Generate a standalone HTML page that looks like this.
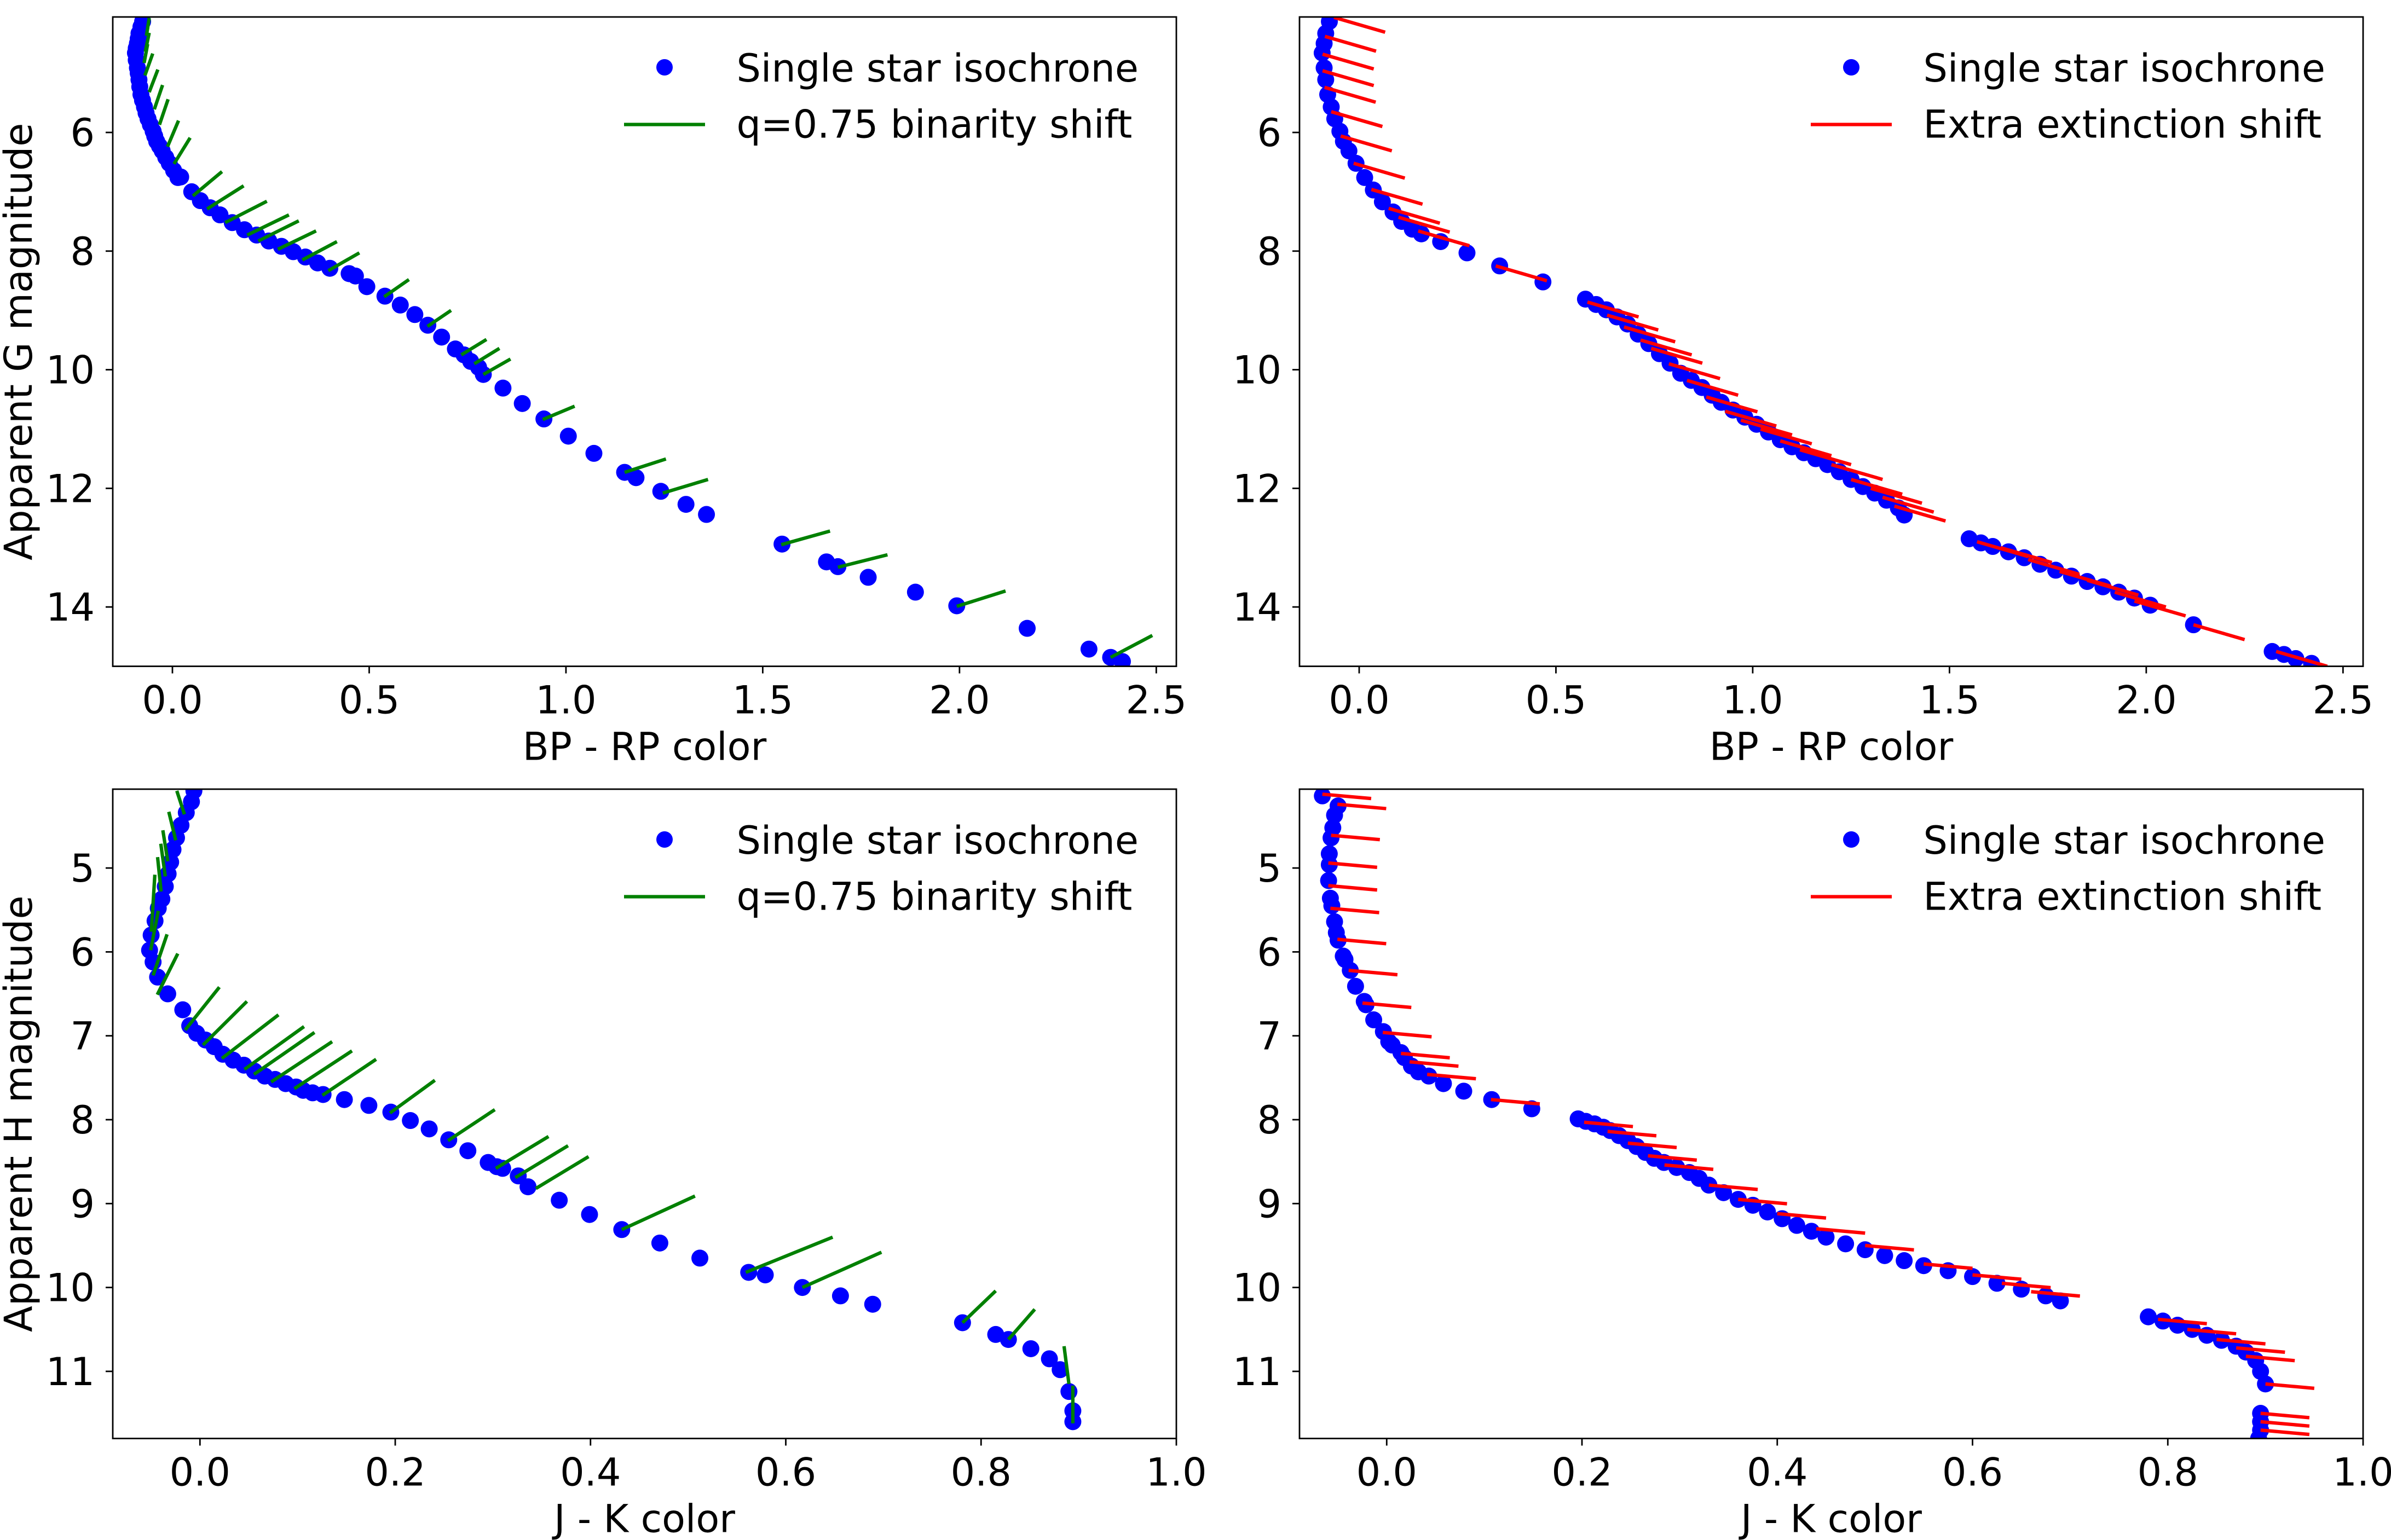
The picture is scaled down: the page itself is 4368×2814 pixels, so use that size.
<!DOCTYPE html>
<html><head><meta charset="utf-8"><style>
html,body{margin:0;padding:0;background:#fff;}
svg{display:block;}
text{font-family:"DejaVu Sans","Liberation Sans",sans-serif;fill:#000;}
</style></head><body>
<svg id="fig" xmlns="http://www.w3.org/2000/svg" width="4368" height="2814" viewBox="0 0 4368 2814">
<rect x="0" y="0" width="4368" height="2814" fill="#fff"/>
</svg>
<script>
// ---------- Top-left: Gaia CMD, binarity shift ----------
const tlColor=[-0.0757,-0.080,-0.085,-0.087,-0.089,-0.092,-0.094,-0.092,-0.089,-0.087,-0.085,-0.083,-0.080,-0.076,-0.071,-0.067,-0.062,-0.056,-0.049,-0.045,-0.040,-0.033,-0.026,-0.017,-0.008,0.003,0.014,0.021,0.049,0.071,0.096,0.121,0.152,0.183,0.214,0.245,0.277,0.307,0.338,0.369,0.400,0.449,0.465,0.494,0.540,0.579,0.616,0.649,0.684,0.719,0.741,0.758,0.778,0.790,0.840,0.889,0.944,1.006,1.071,1.149,1.178,1.241,1.305,1.357,1.549,1.662,1.691,1.768,1.888,1.993,2.172,2.329,2.384,2.414];
const tlMag=[4.13,4.22,4.33,4.42,4.50,4.58,4.66,4.78,4.91,5.00,5.11,5.23,5.36,5.46,5.57,5.67,5.77,5.87,5.98,6.06,6.15,6.23,6.31,6.42,6.52,6.64,6.76,6.75,7.00,7.15,7.27,7.39,7.52,7.64,7.73,7.83,7.92,8.01,8.10,8.20,8.29,8.38,8.42,8.60,8.76,8.91,9.07,9.25,9.45,9.65,9.75,9.86,9.96,10.08,10.31,10.57,10.83,11.12,11.41,11.73,11.82,12.05,12.27,12.44,12.94,13.24,13.32,13.50,13.75,13.98,14.36,14.71,14.85,14.92];
const tlBinX=[-0.066,-0.069,-0.072,-0.070,-0.059,-0.046,-0.033,-0.0125,0.004,0.052,0.088,0.134,0.190,0.218,0.268,0.330,0.396,0.538,0.648,0.734,0.767,0.790,0.941,1.149,1.246,1.547,1.691,1.993,2.384];
const tlBinY=[4.37,4.64,4.83,5.04,5.32,5.61,5.87,6.24,6.53,7.07,7.29,7.52,7.73,7.83,7.97,8.15,8.33,8.77,9.27,9.75,9.90,10.08,10.84,11.73,12.08,12.95,13.33,13.99,14.85];
const tlBinDX=[0.007,0.010,0.009,0.020,0.022,0.021,0.022,0.028,0.041,0.074,0.093,0.106,0.106,0.103,0.097,0.088,0.079,0.063,0.060,0.064,0.064,0.069,0.081,0.105,0.115,0.124,0.126,0.124,0.106];
const tlBinDY=[-0.30,-0.32,-0.32,-0.37,-0.38,-0.41,-0.43,-0.44,-0.44,-0.41,-0.39,-0.36,-0.34,-0.34,-0.31,-0.31,-0.30,-0.29,-0.27,-0.26,-0.26,-0.26,-0.225,-0.225,-0.23,-0.23,-0.21,-0.26,-0.37];

// ---------- Top-right: Gaia CMD, extinction shift ----------
const trColor=[-0.0757,-0.085,-0.089,-0.094,-0.089,-0.085,-0.080,-0.071,-0.062,-0.049,-0.040,-0.026,-0.008,0.014,0.036,0.059,0.086,0.108,0.135,0.158,0.207,0.274,0.357,0.467,0.575,0.602,0.628,0.655,0.682,0.709,0.736,0.763,0.790,0.817,0.844,0.871,0.897,0.92,0.95,0.98,1.01,1.04,1.07,1.10,1.13,1.16,1.19,1.22,1.25,1.28,1.31,1.34,1.37,1.385,1.55,1.58,1.61,1.65,1.69,1.73,1.77,1.81,1.85,1.89,1.93,1.97,2.01,2.12,2.32,2.35,2.38,2.42];
const trMag=[4.13,4.33,4.50,4.66,4.91,5.11,5.36,5.57,5.77,5.98,6.15,6.31,6.52,6.76,6.97,7.17,7.34,7.50,7.63,7.71,7.84,8.03,8.25,8.52,8.81,8.90,8.99,9.11,9.23,9.40,9.56,9.73,9.89,10.06,10.18,10.30,10.43,10.55,10.68,10.80,10.92,11.05,11.18,11.30,11.40,11.50,11.60,11.72,11.85,11.97,12.08,12.20,12.33,12.45,12.85,12.92,12.98,13.07,13.17,13.28,13.38,13.48,13.57,13.66,13.75,13.85,13.97,14.30,14.75,14.80,14.87,14.95];
const trExtX=[-0.064,-0.087,-0.093,-0.093,-0.088,-0.071,-0.047,-0.014,0.031,0.075,0.100,0.150,0.347,0.580,0.630,0.673,0.715,0.742,0.787,0.833,0.882,0.93,0.97,1.02,1.07,1.12,1.20,1.25,1.30,1.33,1.36,1.57,1.63,1.70,1.78,1.85,1.92,1.97,2.12,2.33];
const trExtY=[4.06,4.38,4.68,4.96,5.24,5.65,6.06,6.52,6.96,7.28,7.43,7.66,8.25,8.86,9.08,9.28,9.50,9.64,9.90,10.18,10.46,10.70,10.85,11.00,11.20,11.35,11.60,11.85,12.00,12.15,12.30,12.90,13.00,13.20,13.40,13.55,13.75,13.90,14.30,14.75];
const trExtVec=[0.13,0.25];

// ---------- Bottom-left: 2MASS CMD, binarity shift ----------
const blColor=[-0.0062,-0.0087,-0.014,-0.0194,-0.024,-0.0276,-0.030,-0.0326,-0.0355,-0.039,-0.0427,-0.046,-0.050,-0.0516,-0.048,-0.0434,-0.033,-0.0176,-0.0105,-0.0034,0.0056,0.0146,0.0235,0.034,0.045,0.0557,0.0664,0.077,0.0878,0.0985,0.1057,0.1154,0.1261,0.1479,0.173,0.1955,0.2155,0.2348,0.2548,0.2744,0.2952,0.304,0.31,0.326,0.336,0.368,0.399,0.432,0.471,0.512,0.562,0.579,0.617,0.656,0.689,0.781,0.815,0.828,0.851,0.870,0.881,0.890,0.894,0.894];
const blMag=[4.08,4.21,4.34,4.49,4.64,4.78,4.93,5.07,5.22,5.37,5.48,5.63,5.80,5.98,6.12,6.30,6.50,6.69,6.88,6.97,7.05,7.13,7.22,7.29,7.35,7.42,7.48,7.52,7.57,7.61,7.65,7.68,7.70,7.76,7.83,7.91,8.01,8.11,8.24,8.37,8.51,8.56,8.58,8.67,8.80,8.96,9.13,9.31,9.47,9.65,9.82,9.85,10.00,10.10,10.20,10.42,10.56,10.62,10.73,10.85,10.98,11.24,11.47,11.60];
const blBinX=[-0.0159,-0.0248,-0.033,-0.0355,-0.0398,-0.0498,-0.0505,-0.048,-0.0437,-0.0151,0.0031,0.0224,0.0456,0.0553,0.0729,0.0967,0.1254,0.1946,0.254,0.303,0.323,0.344,0.432,0.559,0.617,0.781,0.828,0.89,0.894];
const blBinY=[4.36,4.67,4.92,5.10,5.28,5.76,5.98,6.28,6.51,6.93,7.11,7.27,7.40,7.46,7.55,7.63,7.71,7.92,8.25,8.58,8.69,8.82,9.31,9.82,10.00,10.42,10.62,11.15,11.62];
const blBinDX=[-0.0078,-0.0071,-0.005,-0.0046,-0.0036,0.0036,0.0078,0.0143,0.021,0.035,0.045,0.058,0.061,0.062,0.0625,0.059,0.055,0.046,0.048,0.054,0.054,0.054,0.075,0.089,0.081,0.034,0.027,-0.005,0.0];
const blBinDY=[-0.28,-0.34,-0.37,-0.39,-0.41,-0.68,-0.47,-0.49,-0.49,-0.51,-0.52,-0.52,-0.51,-0.50,-0.48,-0.45,-0.43,-0.39,-0.37,-0.38,-0.38,-0.38,-0.40,-0.42,-0.42,-0.38,-0.36,-0.45,-0.45];

// ---------- Bottom-right: 2MASS CMD, extinction shift ----------
const brColor=[-0.0659,-0.0498,-0.0534,-0.0552,-0.057,-0.0588,-0.0588,-0.0595,-0.0577,-0.0562,-0.0534,-0.0516,-0.0498,-0.0445,-0.0427,-0.0373,-0.0319,-0.023,-0.0212,-0.0133,-0.0034,0.0021,0.0056,0.0146,0.0181,0.0253,0.0325,0.0431,0.0581,0.0789,0.1075,0.1486,0.1961,0.204,0.2129,0.2219,0.229,0.238,0.247,0.256,0.265,0.274,0.284,0.297,0.31,0.32,0.33,0.345,0.36,0.375,0.39,0.405,0.42,0.435,0.45,0.47,0.49,0.51,0.53,0.55,0.575,0.60,0.625,0.65,0.675,0.69,0.78,0.795,0.81,0.825,0.84,0.855,0.87,0.88,0.89,0.895,0.90,0.895,0.895,0.895,0.893];
const brMag=[4.14,4.26,4.37,4.52,4.64,4.83,4.96,5.15,5.36,5.45,5.64,5.77,5.86,6.05,6.09,6.22,6.41,6.59,6.63,6.81,6.95,7.07,7.11,7.20,7.26,7.36,7.43,7.48,7.57,7.66,7.76,7.87,7.99,8.02,8.05,8.09,8.13,8.19,8.25,8.32,8.39,8.46,8.51,8.57,8.63,8.70,8.78,8.87,8.95,9.02,9.10,9.18,9.26,9.33,9.40,9.48,9.55,9.62,9.68,9.74,9.80,9.87,9.95,10.02,10.10,10.16,10.35,10.40,10.45,10.50,10.57,10.63,10.70,10.77,10.87,11.00,11.15,11.50,11.60,11.70,11.80];
const brExtX=[-0.0659,-0.0505,-0.057,-0.0598,-0.0598,-0.0577,-0.0505,-0.039,-0.0248,-0.004,0.0146,0.0235,0.0414,0.1068,0.2022,0.2262,0.247,0.2676,0.2845,0.33,0.36,0.40,0.44,0.49,0.55,0.60,0.63,0.66,0.79,0.82,0.85,0.87,0.88,0.90,0.895,0.895,0.895];
const brExtY=[4.12,4.24,4.61,4.94,5.21,5.48,5.85,6.22,6.61,6.96,7.21,7.31,7.46,7.76,8.03,8.14,8.28,8.43,8.54,8.78,8.95,9.12,9.30,9.50,9.72,9.85,9.95,10.05,10.38,10.50,10.62,10.72,10.82,11.15,11.50,11.60,11.70];
const brExtVec=[0.05,0.052];

// ---------- axis definitions ----------
const topXTicks=[0.0,0.5,1.0,1.5,2.0,2.5];
const topXTickLabels=["0.0","0.5","1.0","1.5","2.0","2.5"];
const topYTicks=[6,8,10,12,14];
const topYTickLabels=["6","8","10","12","14"];
const botXTicks=[0.0,0.2,0.4,0.6,0.8,1.0];
const botXTickLabels=["0.0","0.2","0.4","0.6","0.8","1.0"];
const botYTicks=[5,6,7,8,9,10,11];
const botYTickLabels=["5","6","7","8","9","10","11"];

const NS="http://www.w3.org/2000/svg";
const svg=document.getElementById('fig');
function mk(tag,attrs,parent){const e=document.createElementNS(NS,tag);for(const k in attrs)e.setAttribute(k,attrs[k]);(parent||svg).appendChild(e);return e;}

function panel(o){
  const L=o.left,T=o.top,W=1943,H=1186.5;
  const sx=v=>L+(v-o.xmin)/(o.xmax-o.xmin)*W;
  const sy=v=>T+(v-o.ymin)/(o.ymax-o.ymin)*H;
  const g=mk('g',{});
  
  
  const cp=mk('clipPath',{id:'clip-'+o.name},g);
  mk('rect',{x:L,y:T,width:W,height:H},cp);
  const plot=mk('g',{'clip-path':'url(#clip-'+o.name+')'},g);
  
  
  for(let i=0;i<o.px.length;i++){
    const c=mk('circle',{cx:sx(o.px[i]),cy:sy(o.py[i]),r:15.5,fill:'#0000ff'},plot);
    
    
  }
  for(let i=0;i<o.lx.length;i++){
    const dx=o.ldx?o.ldx[i]:o.vec[0], dy=o.ldy?o.ldy[i]:o.vec[1];
    const ln=mk('line',{x1:sx(o.lx[i]),y1:sy(o.ly[i]),x2:sx(o.lx[i]+dx),y2:sy(o.ly[i]+dy),stroke:o.lcolor,'stroke-width':6.25},plot);
    
    
  }
  const fr=mk('rect',{x:L,y:T,width:W,height:H,fill:'none',stroke:'#000','stroke-width':2.8},g);
  
  
  for(let i=0;i<o.xt.length;i++){
    const x=sx(o.xt[i]);
    const t=mk('line',{x1:x,y1:T+H,x2:x,y2:T+H+13,stroke:'#000','stroke-width':2.8},g);
    
    
    const lb=mk('text',{x:x,y:T+H+86,'font-size':70,'text-anchor':'middle'},g);
    lb.textContent=o.xtl[i];
    
    
  }
  for(let i=0;i<o.yt.length;i++){
    const y=sy(o.yt[i]);
    const t=mk('line',{x1:L,y1:y,x2:L-13,y2:y,stroke:'#000','stroke-width':2.8},g);
    
    
    const lb=mk('text',{x:L-33,y:y+25,'font-size':70,'text-anchor':'end'},g);
    lb.textContent=o.ytl[i];
    
    
  }
  const xl=mk('text',{x:L+W/2,y:T+H+171,'font-size':70,'text-anchor':'middle'},g);
  xl.textContent=o.xlabel;
  
  
  if(o.ylabel){
    const yl=mk('text',{x:0,y:0,'font-size':70,'text-anchor':'middle',transform:'translate(58,'+(T+H/2)+') rotate(-90)'},g);
    yl.textContent=o.ylabel;
    
    
  }
  const R=L+W;
  const lg=mk('g',{},g);
  
  
  const d=mk('circle',{cx:R-935,cy:T+92,r:15,fill:'#0000ff'},lg);
  
  
  const t1=mk('text',{x:R-803.5,y:T+118,'font-size':70},lg);
  t1.textContent='Single star isochrone';
  
  
  const l2=mk('line',{x1:R-1009,y1:T+196.5,x2:R-861,y2:T+196.5,stroke:o.lcolor,'stroke-width':6.25},lg);
  
  
  const t2=mk('text',{x:R-803.5,y:T+220.5,'font-size':70},lg);
  t2.textContent=o.legend2;
  
  
}

panel({name:'gaia-binarity-panel',left:206,top:31,xmin:-0.1516,xmax:2.551,ymin:4.053,ymax:15.0,
  px:tlColor,py:tlMag,lx:tlBinX,ly:tlBinY,ldx:tlBinDX,ldy:tlBinDY,lcolor:'#008000',lname:'binarity-shift',
  xt:topXTicks,xtl:topXTickLabels,yt:topYTicks,ytl:topYTickLabels,xlabel:'BP - RP color',ylabel:'Apparent G magnitude',legend2:'q=0.75 binarity shift'});
panel({name:'gaia-extinction-panel',left:2374,top:31,xmin:-0.1516,xmax:2.551,ymin:4.053,ymax:15.0,
  px:trColor,py:trMag,lx:trExtX,ly:trExtY,vec:trExtVec,lcolor:'#ff0000',lname:'extinction-shift',
  xt:topXTicks,xtl:topXTickLabels,yt:topYTicks,ytl:topYTickLabels,xlabel:'BP - RP color',ylabel:null,legend2:'Extra extinction shift'});
panel({name:'2mass-binarity-panel',left:206,top:1442,xmin:-0.0893,xmax:1.0,ymin:4.06,ymax:11.80,
  px:blColor,py:blMag,lx:blBinX,ly:blBinY,ldx:blBinDX,ldy:blBinDY,lcolor:'#008000',lname:'binarity-shift',
  xt:botXTicks,xtl:botXTickLabels,yt:botYTicks,ytl:botYTickLabels,xlabel:'J - K color',ylabel:'Apparent H magnitude',legend2:'q=0.75 binarity shift'});
panel({name:'2mass-extinction-panel',left:2374,top:1442,xmin:-0.0893,xmax:1.0,ymin:4.06,ymax:11.80,
  px:brColor,py:brMag,lx:brExtX,ly:brExtY,vec:brExtVec,lcolor:'#ff0000',lname:'extinction-shift',
  xt:botXTicks,xtl:botXTickLabels,yt:botYTicks,ytl:botYTickLabels,xlabel:'J - K color',ylabel:null,legend2:'Extra extinction shift'});
</script>
</body></html>
